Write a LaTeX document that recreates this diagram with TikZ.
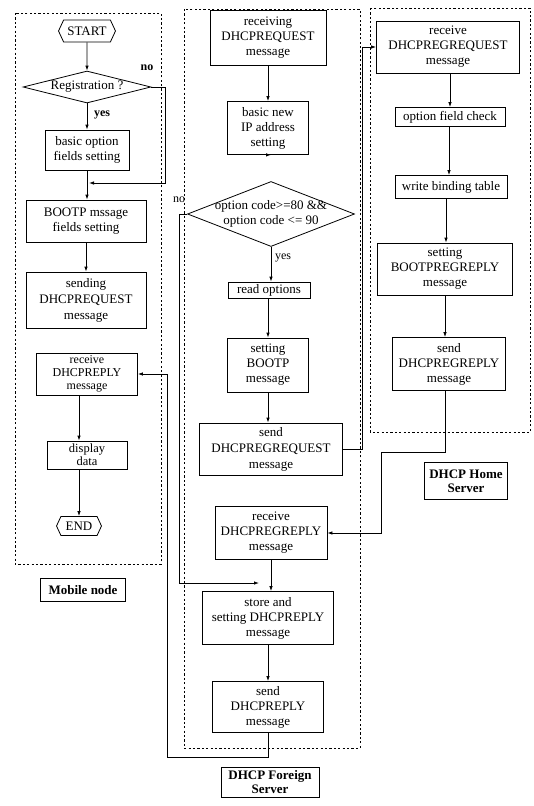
\documentclass[tikz,border=0pt]{standalone}
\usepackage{fontspec}
\setmainfont{Liberation Serif}
\usetikzlibrary{shapes.geometric,shapes.symbols,arrows.meta}
\begin{document}
\begin{tikzpicture}[x=1pt,y=-1pt,
  every node/.style={font=\fontsize{13}{15}\selectfont},
  box/.style={draw, line width=0.8pt, align=center, inner sep=1pt},
  term/.style={draw, line width=0.8pt, signal, signal to=west and east, signal pointer angle=130, inner sep=1.5pt},
  dec/.style={draw, line width=0.8pt, diamond, inner sep=0pt},
  dtext/.style={align=center, inner sep=0pt, font=\fontsize{13}{15}\selectfont},
  lbl/.style={draw, line width=0.8pt, align=center, inner sep=1pt, font=\fontsize{13}{14}\selectfont\bfseries},
  frame/.style={line width=0.9pt, dash pattern=on 2.2pt off 2.2pt},
  arr/.style={line width=0.8pt, -{Latex[length=5pt,width=3.5pt]}},
  tag/.style={font=\fontsize{12}{13}\selectfont\bfseries},
  ntag/.style={font=\fontsize{12}{13}\selectfont},
  ]
\useasboundingbox (0,0) rectangle (534,806);

% frames
\draw[frame] (15,13) rectangle (161,564);
\draw[frame] (184,9) rectangle (360,748);
\draw[frame] (370,8) rectangle (530,432);

% ---- Mobile node ----
\node[term, minimum width=57pt, minimum height=22pt] (start) at (87,31) {START};
\node[dec, minimum width=128pt, minimum height=32pt,
      label={[dtext]center:Registration ?}] (reg) at (87,87) {};
\node[box, minimum width=84pt, minimum height=40pt] (basic) at (87,150) {basic option\\fields setting};
\node[box, minimum width=120pt, minimum height=42pt] (bootp) at (86,221) {BOOTP mssage\\fields setting};
\node[box, minimum width=120pt, minimum height=56pt, font=\fontsize{13}{16}\selectfont] (sendreq) at (86,300) {sending\\DHCPREQUEST\\message};
\node[box, minimum width=101pt, minimum height=42pt, font=\fontsize{12}{13.3}\selectfont] (recvrep) at (87,374) {receive\\DHCPREPLY\\message};
\node[box, minimum width=80pt, minimum height=28pt, font=\fontsize{12.5}{13}\selectfont] (display) at (87,455) {display\\data};
\node[term, minimum width=45pt, minimum height=19pt] (endn) at (79,526) {END};
\node[lbl, minimum width=85pt, minimum height=23pt] (mob) at (83,590) {Mobile node};
\coordinate (mjoin) at (89,183);
\coordinate (mno) at (165,183);

\draw[arr] (start) -- (reg);
\draw[arr] (reg) -- (basic);
\node[tag] at (102,115) {yes};
\node[tag] at (147,68) {no};
\draw[arr] (reg.east) -| (mno) -- (mjoin);
\draw[arr] (basic.south) -- (basic.south |- bootp.north);
\draw[arr] (bootp) -- (sendreq);
\draw[arr] (recvrep.south -| endn.north) -- (display.north -| endn.north);
\draw[arr] (display.south -| endn.north) -- (endn.north);

% ---- DHCP Foreign Server ----
\node[box, minimum width=116pt, minimum height=55pt] (recvreq) at (268,38) {receiving\\DHCPREQUEST\\message};
\node[box, minimum width=81pt, minimum height=53pt] (basicip) at (268,128) {basic new\\IP address\\setting};
\node[dec, minimum width=167pt, minimum height=65pt,
      label={[dtext]center:option code>=80 \&\&\\option code <= 90}] (opt) at (271,214) {};
\node[box, minimum width=82pt, minimum height=16pt] (readopt) at (269,290) {read options};
\node[box, minimum width=81pt, minimum height=54pt] (setbootp) at (268,365) {setting\\BOOTP\\message};
\node[box, minimum width=143pt, minimum height=52pt, font=\fontsize{13}{16}\selectfont] (sendregreq) at (271,449) {send\\DHCPREGREQUEST\\message};
\node[box, minimum width=112pt, minimum height=53pt] (recvregrep) at (271,533) {receive\\DHCPREGREPLY\\message};
\node[box, minimum width=131pt, minimum height=53pt] (store) at (268,618) {store and\\setting DHCPREPLY\\message};
\node[box, minimum width=111pt, minimum height=51pt] (sendrep) at (268,707) {send\\DHCPREPLY\\message};
\node[lbl, minimum width=98pt, minimum height=30pt] (forl) at (270,782) {DHCP Foreign\\Server};
\coordinate (fno) at (179,583);
\coordinate (fjoin) at (259,583);
\coordinate (fup) at (362,47);
\coordinate (mret) at (167,757);

\draw[arr] (recvreq) -- (basicip);
\draw[arr] (basicip.south) -- (basicip.south -| opt.north);
\draw[arr] (opt.south) -- (opt.south |- readopt.north);
\node[ntag] at (283,258) {yes};
\node[ntag] at (179,200) {no};
\draw[arr] (opt.west) -| (fno) -- (fjoin);
\draw[arr] (readopt.south -| setbootp.north) -- (setbootp.north);
\draw[arr] (setbootp.south) -- (setbootp.south |- sendregreq.north);
\draw[arr] (recvregrep.south) -- (recvregrep.south |- store.north);
\draw[arr] (store) -- (sendrep);
\draw[arr] (sendrep.south) |- (mret) |- (recvrep.east);

% ---- DHCP Home Server ----
\node[box, minimum width=143pt, minimum height=52pt] (recvregreq) at (448,47) {receive\\DHCPREGREQUEST\\message};
\node[box, minimum width=110pt, minimum height=19pt] (optcheck) at (450,117) {option field check};
\node[box, minimum width=112pt, minimum height=23pt] (wbt) at (451,187) {write binding table};
\node[box, minimum width=135pt, minimum height=52pt] (setbrr) at (445,269) {setting\\BOOTPREGREPLY\\message};
\node[box, minimum width=113pt, minimum height=53pt] (sendregrep) at (449,364) {send\\DHCPREGREPLY\\message};
\node[lbl, minimum width=83pt, minimum height=37pt] (homel) at (466,481) {DHCP Home\\Server};
\coordinate (hdown) at (381,452);

\draw[arr] (sendregreq.east) -| (fup) -- (fup -| recvregreq.west);
\draw[arr] (recvregreq.south -| optcheck.north) -- (optcheck.north);
\draw[arr] (optcheck.south -| 449,0) -- (wbt.north -| 449,0);
\draw[arr] (wbt.south -| 446,0) -- (setbrr.north -| 446,0);
\draw[arr] (setbrr.south) -- (setbrr.south |- sendregrep.north);
\draw[arr] (sendregrep.south -| setbrr.south) |- (hdown) |- (recvregrep.east);
\end{tikzpicture}
\end{document}
